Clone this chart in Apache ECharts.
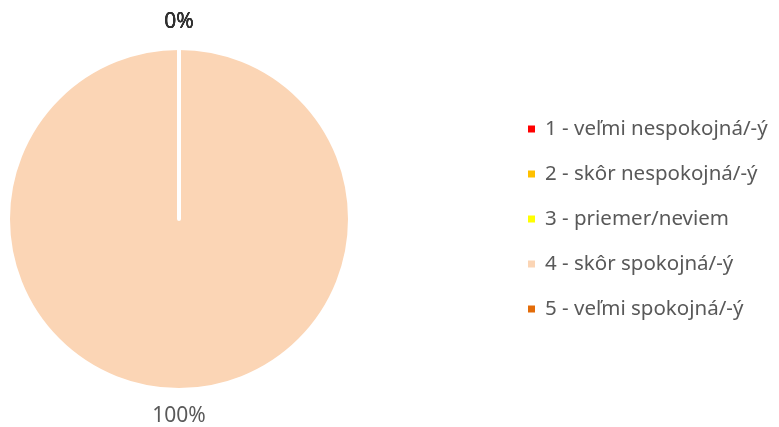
<!DOCTYPE html>
<html>
<head>
<meta charset="utf-8">
<script src="https://cdn.jsdelivr.net/npm/echarts@6/dist/echarts.min.js"></script>
<style>
  html, body { margin: 0; padding: 0; background: #fff; }
  #main { width: 779px; height: 427px; }
</style>
</head>
<body>
<div id="main"></div>
<script>
var categories = ['1 - veľmi nespokojná/-ý', '2 - skôr nespokojná/-ý', '3 - priemer/neviem', '4 - skôr spokojná/-ý', '5 - veľmi spokojná/-ý'];
var values = [0, 0, 0, 1, 0];
var colors = ['#FF0000', '#FFC000', '#FFFF00', '#FBD5B5', '#E36C09'];

var pieCenter = [179, 219];

var chart = echarts.init(document.getElementById('main'), null, { renderer: 'canvas' });

var option = {
  backgroundColor: '#ffffff',
  color: colors,
  animation: false,
  textStyle: { fontFamily: 'Noto Sans' },
  legend: {
    orient: 'vertical',
    left: 526,
    top: 117,
    padding: 0,
    icon: 'rect',
    itemWidth: 9,
    itemHeight: 9,
    itemGap: 21,
    textStyle: {
      fontSize: 20.5,
      color: '#595959',
      lineHeight: 24,
      padding: [0, 0, 0, 4]
    },
    data: categories
  },
  series: [{
    type: 'pie',
    center: pieCenter,
    radius: [0, 171],
    startAngle: 90,
    clockwise: true,
    avoidLabelOverlap: false,
    itemStyle: {
      borderColor: '#ffffff',
      borderWidth: 4
    },
    label: {
      show: true,
      position: 'outside',
      fontSize: 21,
      color: '#595959',
      formatter: function (p) {
        return Math.round(p.percent) + '%';
      }
    },
    labelLine: { show: false, length: 26, length2: 0 },
    // labels sit straight above / below the centre
    labelLayout: function () {
      return { x: pieCenter[0], align: 'center' };
    },
    emphasis: { disabled: true },
    data: categories.map(function (name, i) {
      var item = { name: name, value: values[i] };
      if (values[i] === 0) {
        item.label = { color: '#303030' };
      }
      return item;
    })
  }]
};

chart.setOption(option);
</script>
</body>
</html>
